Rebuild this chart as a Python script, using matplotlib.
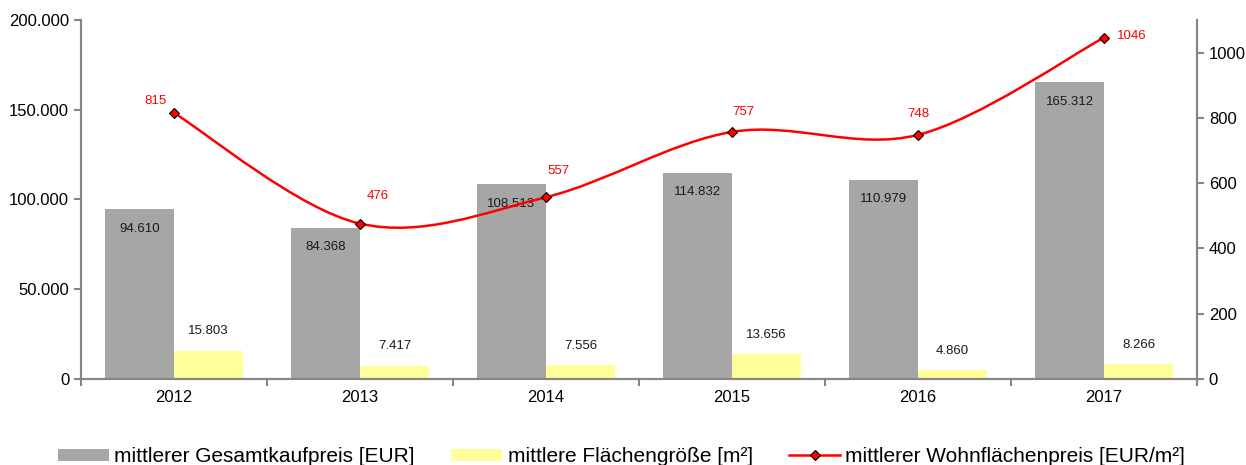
import matplotlib.pyplot as plt
import numpy as np
from matplotlib.path import Path
from matplotlib.patches import PathPatch
from matplotlib.lines import Line2D
from matplotlib.patches import Patch
from matplotlib.ticker import FuncFormatter

plt.rcParams['font.family'] = ['Liberation Sans', 'DejaVu Sans']

# Daten
jahre = ['2012', '2013', '2014', '2015', '2016', '2017']
gesamtkaufpreis = [94610, 84368, 108513, 114832, 110979, 165312]
flaechengroesse = [15803, 7417, 7556, 13656, 4860, 8266]
wohnflaechenpreis = [815, 476, 557, 757, 748, 1046]


def de_fmt(v):
    return f'{int(v):,}'.replace(',', '.')


fig = plt.figure(figsize=(12.46, 4.65), dpi=100)
ax = fig.add_axes([0.065, 0.185, 0.8957, 0.772])
ax2 = ax.twinx()

grau = '#A6A6A6'
gelb = '#FFFF99'
rot = '#FF0000'
achse = '#868686'

x = np.arange(len(jahre))
w = 0.371

ax.bar(x - w / 2, gesamtkaufpreis, width=w, color=grau, zorder=2)
ax.bar(x + w / 2, flaechengroesse, width=w, color=gelb, zorder=2)

for xi, v in zip(x, gesamtkaufpreis):
    ax.annotate(de_fmt(v), (xi - w / 2, v), xytext=(0, -14), textcoords='offset points',
                ha='center', va='center', fontsize=9.5, color='#1a1a1a', zorder=5)
for xi, v in zip(x, flaechengroesse):
    ax.annotate(de_fmt(v), (xi + w / 2, v), xytext=(0, 14), textcoords='offset points',
                ha='center', va='center', fontsize=9.5, color='#1a1a1a', zorder=5)

ax.set_ylim(0, 200000)
ax.set_yticks([0, 50000, 100000, 150000, 200000])
ax.yaxis.set_major_formatter(FuncFormatter(lambda v, p: de_fmt(v)))
ax.set_xlim(-0.5, len(jahre) - 0.5)
ax.set_xticks(x)
ax.set_xticklabels(jahre)
ax.set_xticks(np.arange(-0.5, len(jahre)), minor=True)
ax.tick_params(axis='x', which='major', length=0, pad=8, labelsize=12)
ax.tick_params(axis='x', which='minor', length=5, color=achse, width=1.5, direction='out')
ax.tick_params(axis='y', length=5, color=achse, width=1.5, labelsize=12)

ax2.set_ylim(0, 1100)
ax2.set_yticks([0, 200, 400, 600, 800, 1000])
ax2.tick_params(axis='y', length=5, color=achse, width=1.5, labelsize=12)

for a in (ax, ax2):
    a.spines['top'].set_visible(False)
    for s in ('left', 'right', 'bottom'):
        a.spines[s].set_color(achse)
        a.spines[s].set_linewidth(1.5)
ax2.set_zorder(ax.get_zorder() + 1)
ax2.patch.set_visible(False)

# geglaettete Linie (Catmull-Rom als Bezier-Pfad)
pts = np.column_stack([x, wohnflaechenpreis]).astype(float)
verts = [tuple(pts[0])]
codes = [Path.MOVETO]
n = len(pts)
for i in range(n - 1):
    p0 = pts[max(i - 1, 0)]
    p1 = pts[i]
    p2 = pts[i + 1]
    p3 = pts[min(i + 2, n - 1)]
    c1 = p1 + (p2 - p0) / 6
    c2 = p2 - (p3 - p1) / 6
    verts += [tuple(c1), tuple(c2), tuple(p2)]
    codes += [Path.CURVE4] * 3
ax2.add_patch(PathPatch(Path(verts, codes), facecolor='none', edgecolor=rot, lw=1.8, zorder=3))
ax2.plot(x, wohnflaechenpreis, linestyle='none', marker='D', markersize=5.5,
         markerfacecolor=rot, markeredgecolor='black', markeredgewidth=0.8, zorder=4)

label_off = [(-13, 9), (13, 20), (9, 19), (8, 14), (0, 15), (20, 1.5)]
for xi, v, off in zip(x, wohnflaechenpreis, label_off):
    ax2.annotate(str(v), (xi, v), xytext=off, textcoords='offset points',
                 ha='center', va='center', fontsize=9.5, color=rot)

handles = [
    Patch(facecolor=grau, edgecolor='none'),
    Patch(facecolor=gelb, edgecolor='none'),
    Line2D([], [], color=rot, lw=1.8, marker='D', markersize=5.5,
           markerfacecolor=rot, markeredgecolor='black', markeredgewidth=0.8),
]
labels = ['mittlerer Gesamtkaufpreis [EUR]', 'mittlere Flächengröße [m²]',
          'mittlerer Wohnflächenpreis [EUR/m²]']
fig.legend(handles, labels, loc='center', bbox_to_anchor=(0.499, 0.018), ncol=3,
           frameon=False, fontsize=15, handlelength=2.45, handleheight=0.5,
           handletextpad=0.25, columnspacing=1.75)

fig.savefig('out.png', dpi=100)
